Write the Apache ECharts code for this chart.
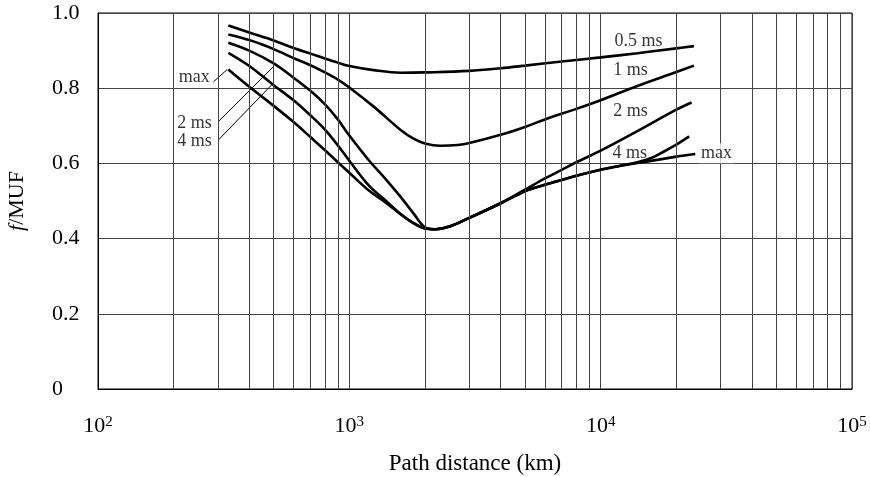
<!DOCTYPE html>
<html>
<head>
<meta charset="utf-8">
<script src="https://cdn.jsdelivr.net/npm/echarts@6/dist/echarts.min.js"></script>
<style>
  html, body { margin: 0; padding: 0; background: #fff; }
  #chart { width: 870px; height: 477px; }
</style>
</head>
<body>
<div id="chart"></div>
<script>
// path distance (km) and f/MUF, one pair of arrays per curve
const dist05 = [330, 400, 500, 600, 700, 800, 900, 1000, 1250, 1600, 2000, 3000, 4000, 5000, 7000, 10000, 14000, 20000, 23500];
const f05 = [0.967, 0.948, 0.927, 0.907, 0.892, 0.879, 0.868, 0.859, 0.848, 0.841, 0.842, 0.846, 0.853, 0.860, 0.871, 0.882, 0.893, 0.906, 0.912];

const dist1 = [330, 400, 500, 600, 700, 800, 900, 1000, 1250, 1600, 1800, 2000, 2300, 2700, 3000, 4000, 5000, 6000, 8000, 10000, 14000, 20000, 23500];
const f1 = [0.943, 0.928, 0.904, 0.880, 0.861, 0.842, 0.823, 0.802, 0.751, 0.689, 0.666, 0.653, 0.647, 0.649, 0.654, 0.676, 0.697, 0.717, 0.745, 0.768, 0.806, 0.843, 0.860];

const dist2 = [330, 400, 500, 600, 700, 800, 900, 1000, 1200, 1400, 1600, 1800, 2000, 2200, 2500, 3000, 4000, 5000, 6000, 7000, 8000, 10000, 14000, 20000, 23000];
const f2 = [0.921, 0.900, 0.866, 0.828, 0.793, 0.757, 0.717, 0.674, 0.607, 0.557, 0.511, 0.467, 0.430, 0.425, 0.432, 0.455, 0.494, 0.530, 0.560, 0.583, 0.603, 0.634, 0.686, 0.743, 0.762];

const dist4 = [330, 400, 500, 600, 700, 800, 900, 1000, 1200, 1400, 1600, 1800, 2000, 2200, 2500, 3000, 4000, 5000, 6000, 7000, 8000, 10000, 12000, 14000, 16000, 18000, 20000, 22500];
const f4 = [0.894, 0.859, 0.808, 0.768, 0.728, 0.690, 0.648, 0.607, 0.540, 0.500, 0.465, 0.441, 0.427, 0.425, 0.432, 0.455, 0.494, 0.526, 0.543, 0.556, 0.567, 0.583, 0.594, 0.603, 0.615, 0.633, 0.650, 0.672];

const distMax = [330, 400, 500, 600, 700, 800, 900, 1000, 1200, 1400, 1600, 1800, 2000, 2200, 2500, 3000, 4000, 5000, 6000, 7000, 8000, 10000, 12000, 14000, 17000, 20000, 23800];
const fMax = [0.850, 0.804, 0.753, 0.710, 0.670, 0.635, 0.603, 0.575, 0.527, 0.495, 0.465, 0.441, 0.427, 0.425, 0.432, 0.455, 0.494, 0.526, 0.543, 0.556, 0.567, 0.583, 0.594, 0.601, 0.610, 0.618, 0.625];

// minor vertical grid lines (2..9 x each decade)
const minorKm = [200, 300, 400, 500, 600, 700, 800, 900,
  2000, 3000, 4000, 5000, 6000, 7000, 8000, 9000,
  20000, 30000, 40000, 50000, 60000, 70000, 80000, 90000];

// curve labels: [km, f/MUF, text, side]
const curveLabels = [
  [11100, 0.924, '0.5 ms', 'right'],
  [10960, 0.848, '1 ms', 'right'],
  [10960, 0.738, '2 ms', 'right'],
  [10890, 0.628, '4 ms', 'right'],
  [24500, 0.627, 'max', 'right'],
  [285, 0.830, 'max', 'left'],
  [290, 0.707, '2 ms', 'left'],
  [290, 0.660, '4 ms', 'left']
];

// leader lines from the left labels to their curves
const leaders = [
  [[288, 0.817], [327, 0.850]],
  [[301, 0.711], [498, 0.857]],
  [[301, 0.662], [491, 0.809]]
];

const FONT = "'Liberation Serif', 'Times New Roman', serif";

const zip = (xs, ys) => xs.map((x, i) => [x, ys[i]]);

const curve = (name, xs, ys) => ({
  name: name,
  type: 'line',
  data: zip(xs, ys),
  smooth: 0.35,
  showSymbol: false,
  symbol: 'none',
  z: 3,
  lineStyle: { color: '#000', width: 2.6 }
});

const chart = echarts.init(document.getElementById('chart'));

const series = [
  {
    name: 'grid',
    type: 'line',
    data: [],
    z: 1,
    silent: true,
    markLine: {
      silent: true,
      symbol: ['none', 'none'],
      label: { show: false },
      lineStyle: { color: '#444', width: 1, type: 'solid' },
      data: minorKm.map(v => ({ xAxis: v }))
    }
  },
  curve('0.5 ms', dist05, f05),
  curve('1 ms', dist1, f1),
  curve('2 ms', dist2, f2),
  curve('4 ms', dist4, f4),
  curve('max', distMax, fMax)
];

leaders.forEach(pts => {
  series.push({
    type: 'line',
    data: pts,
    symbol: 'none',
    z: 4,
    silent: true,
    lineStyle: { color: '#000', width: 1 }
  });
});

series.push({
  type: 'scatter',
  z: 5,
  symbolSize: 1,
  itemStyle: { color: 'rgba(0,0,0,0)' },
  silent: true,
  data: curveLabels.map(d => ({
    value: [d[0], d[1]],
    name: d[2],
    label: {
      show: true,
      position: d[3],
      distance: 0,
      formatter: d[2],
      color: '#000',
      fontFamily: FONT,
      fontSize: 18,
      backgroundColor: d[3] === 'right' && d[0] > 20000 ? '#fff' : 'transparent',
      padding: [1, 2]
    }
  }))
});

chart.setOption({
  animation: false,
  backgroundColor: '#fff',
  textStyle: { fontFamily: FONT, color: '#000' },
  grid: {
    left: 98, right: 18, top: 13, bottom: 88,
    outerBoundsMode: 'none',
    show: true,
    borderColor: '#000',
    borderWidth: 1
  },
  xAxis: {
    type: 'log',
    logBase: 10,
    min: 100,
    max: 100000,
    name: 'Path distance (km)',
    nameLocation: 'middle',
    nameGap: 63,
    nameTextStyle: { fontFamily: FONT, fontSize: 23, color: '#000' },
    axisLine: { show: true, lineStyle: { color: '#000', width: 1 } },
    axisTick: { show: false },
    splitLine: { show: true, lineStyle: { color: '#444', width: 1 } },
    axisLabel: {
      margin: 26,
      color: '#000',
      fontFamily: FONT,
      fontSize: 22,
      formatter: v => '10{sup|' + Math.round(Math.log10(v)) + '}',
      rich: {
        sup: { fontFamily: FONT, fontSize: 15, verticalAlign: 'top', lineHeight: 14, color: '#000' }
      }
    }
  },
  yAxis: {
    type: 'value',
    min: 0,
    max: 1,
    interval: 0.2,
    name: '{i|f}/MUF',
    nameLocation: 'middle',
    nameGap: 70,
    nameTextStyle: {
      fontFamily: FONT, fontSize: 22, color: '#000',
      rich: { i: { fontFamily: FONT, fontSize: 22, fontStyle: 'italic', color: '#000' } }
    },
    axisLine: { show: true, lineStyle: { color: '#000', width: 1 } },
    axisTick: { show: false },
    splitLine: { show: true, lineStyle: { color: '#444', width: 1 } },
    axisLabel: {
      margin: 46,
      align: 'left',
      color: '#000',
      fontFamily: FONT,
      fontSize: 22,
      formatter: v => (v === 0 ? '0' : v.toFixed(1))
    }
  },
  series: series
});
</script>
</body>
</html>
